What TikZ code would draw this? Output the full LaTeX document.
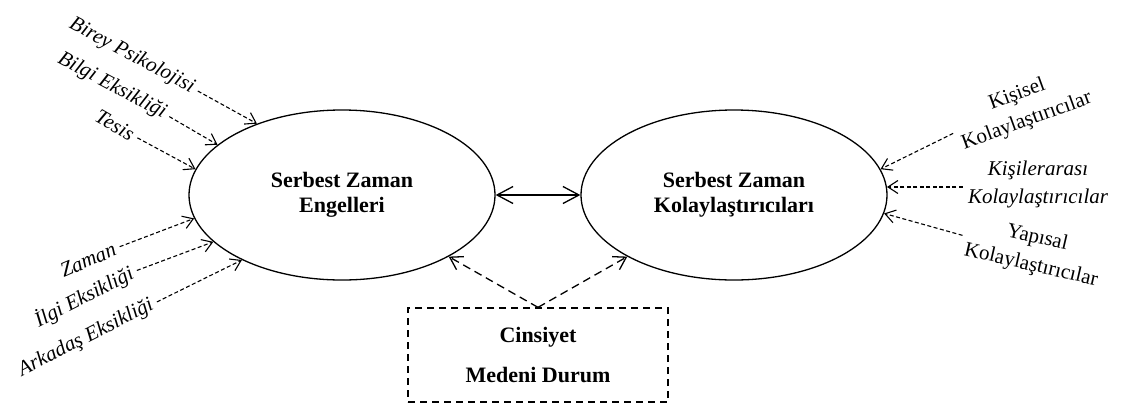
\documentclass[tikz,border=0pt]{standalone}
\usepackage{fontspec}
\setmainfont{Liberation Serif}
\usetikzlibrary{shapes.geometric, arrows.meta}
\tikzset{
  construct/.style={draw, ellipse, line width=1.3pt, minimum width=306pt,
    minimum height=170pt, inner sep=0pt, align=center,
    font=\fontsize{22}{25}\selectfont\bfseries},
  factor/.style={align=center, inner sep=2pt, font=\fontsize{21}{28}\selectfont},
  italicfactor/.style={factor, font=\fontsize{21}{28}\selectfont\itshape},
  groupbox/.style={draw, dash pattern=on 7pt off 5pt, line width=1.3pt,
    minimum width=260pt, minimum height=94pt, align=center,
    font=\fontsize{22}{40}\selectfont\bfseries},
  factorarrow/.style={line width=1.1pt, dash pattern=on 4pt off 2.5pt,
    -{Straight Barb[length=10pt, width=13pt, line width=1.1pt]}, shorten <=3pt},
  grouparrow/.style={line width=1.3pt, dash pattern=on 8pt off 5pt,
    -{Straight Barb[length=12pt, width=15pt, line width=1.3pt]}},
  mutual/.style={line width=1.3pt,
    {Straight Barb[length=16pt, width=17pt, line width=1.3pt]}-{Straight Barb[length=16pt, width=17pt, line width=1.3pt]}},
}
\newcommand{\GenericFactor}[6]{
  \node [#1, rotate=#5] (#2) at (#3, #4) {#6};
}
\newcommand{\ItalicFactor}[5]{
  \GenericFactor{italicfactor}{#1}{#2}{#3}{#4}{#5}
}
\newcommand{\PlainFactor}[5]{
  \GenericFactor{factor}{#1}{#2}{#3}{#4}{#5}
}
\newcommand{\FactorArrow}[2]{
  \draw [factorarrow] (#1) -- (#2);
}
\newcommand{\GroupArrow}[2]{
  \draw [grouparrow] (#1) -- (#2);
}
\begin{document}
\begin{tikzpicture}[x=1pt, y=-1pt]
        \useasboundingbox (0, 0) rectangle (1121, 405);

        % the two constructs
        \node [construct] (engel) at (342, 195) {Serbest Zaman\\Engelleri};
        \node [construct] (kolay) at (734, 195) {Serbest Zaman\\Kolaylaştırıcıları};
        \draw [mutual] (engel) -- (kolay);

        % barriers, upper left
        \ItalicFactor{birey}{132}{56}{-28}{Birey Psikolojisi}
        \ItalicFactor{bilgi}{112}{86}{-28}{Bilgi Eksikliği}
        \ItalicFactor{tesis}{115}{125}{-30}{Tesis}
        \FactorArrow{birey.east}{engel.140}
        \FactorArrow{bilgi.east}{engel.158}
        \FactorArrow{tesis.east}{engel.170}

        % barriers, lower left
        \ItalicFactor{zaman}{88}{260}{23}{Zaman}
        \ItalicFactor{ilgi}{84}{297}{27}{İlgi Eksikliği}
        \ItalicFactor{arkadas}{86}{338}{27}{Arkadaş Eksikliği}
        \FactorArrow{zaman.east}{engel.189}
        \FactorArrow{ilgi.east}{engel.200}
        \FactorArrow{arkadas.east}{engel.213}

        % facilitators, right
        \PlainFactor{kisisel}{1022}{108}{20}{Kişisel\\Kolaylaştırıcılar}
        \ItalicFactor{kisiler}{1038}{184}{0}{Kişilerarası\\Kolaylaştırıcılar}
        \PlainFactor{yapisal}{1034}{252}{-13}{Yapısal\\Kolaylaştırıcılar}
        \FactorArrow{kisisel.west}{kolay.10}
        \FactorArrow{kisiler.west |- kolay.3}{kolay.3}
        \FactorArrow{yapisal.west}{kolay.-7}

        % gender and marital status
        \node [groupbox] (durum) at (538, 355) {Cinsiyet\\Medeni Durum};
        \GroupArrow{durum.north}{engel.330}
        \GroupArrow{durum.north}{kolay.210}

      \end{tikzpicture}
\end{document}
